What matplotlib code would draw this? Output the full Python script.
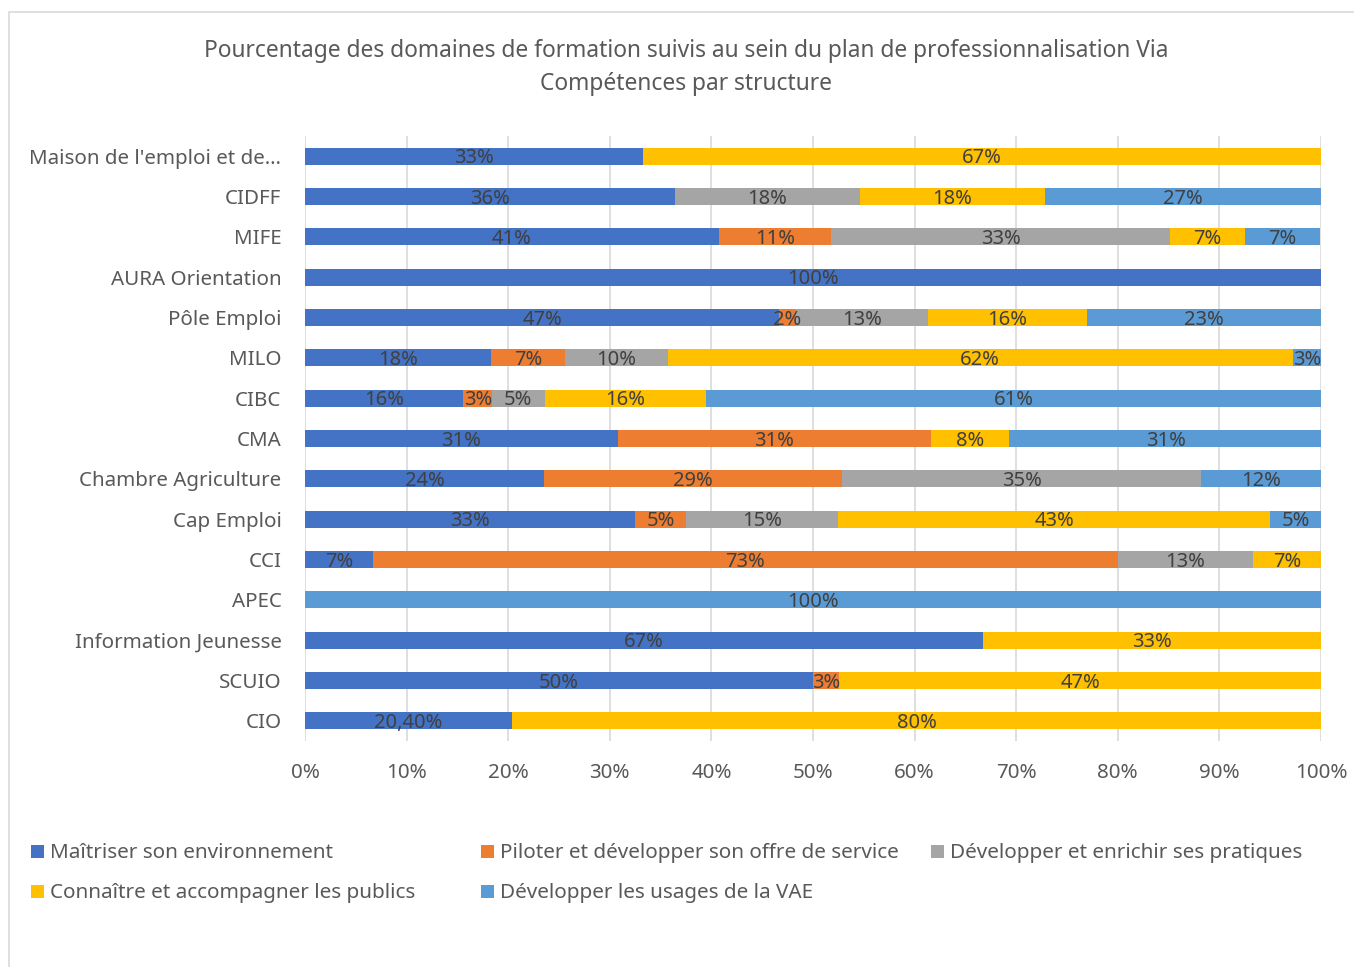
import math
import matplotlib
matplotlib.use("Agg")
import matplotlib.pyplot as plt
from matplotlib.patches import Rectangle

plt.rcParams['font.family'] = ['Noto Sans', 'DejaVu Sans']

categories = ["Maison de l'emploi et de…", "CIDFF", "MIFE", "AURA Orientation",
              "Pôle Emploi", "MILO", "CIBC", "CMA", "Chambre Agriculture",
              "Cap Emploi", "CCI", "APEC", "Information Jeunesse", "SCUIO", "CIO"]

series_names = ["Maîtriser son environnement",
                "Piloter et développer son offre de service",
                "Développer et enrichir ses pratiques",
                "Connaître et accompagner les publics",
                "Développer les usages de la VAE"]

maitriser = [33.3, 36.4, 40.7, 100.0, 46.7, 18.3, 15.6, 30.8, 23.5, 32.5, 6.7, 0.0, 66.7, 50.0, 20.4]
piloter = [0.0, 0.0, 11.1, 0.0, 1.6, 7.3, 2.8, 30.8, 29.4, 5.0, 73.3, 0.0, 0.0, 2.6, 0.0]
enrichir = [0.0, 18.2, 33.3, 0.0, 13.0, 10.1, 5.2, 0.0, 35.3, 15.0, 13.3, 0.0, 0.0, 0.0, 0.0]
connaitre = [66.7, 18.2, 7.4, 0.0, 15.7, 61.5, 15.9, 7.7, 0.0, 42.5, 6.7, 0.0, 33.3, 47.4, 79.6]
vae = [0.0, 27.3, 7.4, 0.0, 23.0, 2.8, 60.6, 30.8, 11.8, 5.0, 0.0, 100.0, 0.0, 0.0, 0.0]

# label overrides (as typed in the source chart)
label_overrides = {(0, 14): "20,40%"}

colors = ["#4472C4", "#ED7D31", "#A5A5A5", "#FFC000", "#5B9BD5"]
series = [maitriser, piloter, enrichir, connaitre, vae]

W, H = 1354, 967
fig = plt.figure(figsize=(W / 100, H / 100), dpi=100)
fig.patch.set_facecolor("white")

# outer chart border (right and bottom edges fall outside the image)
fig.patches.append(Rectangle((9 / W, -0.02), (W - 9) / W + 0.02, (H - 12) / H + 0.02,
                             transform=fig.transFigure, fill=False,
                             edgecolor="#D9D9D9", linewidth=1.2))

ax = fig.add_axes([305 / W, 1 - 741 / H, 1016 / W, 605 / H])
y = list(range(len(categories)))
left = [0.0] * len(categories)
text_color = "#404040"
for si, (vals, col) in enumerate(zip(series, colors)):
    ax.barh(y, vals, left=left, height=0.42, color=col, zorder=3)
    for ci, v in enumerate(vals):
        if v > 0:
            lab = label_overrides.get((si, ci), f"{math.floor(v + 0.5)}%")
            ax.text(left[ci] + v / 2, ci + 0.05, lab, ha="center", va="center",
                    fontsize=14.5, color=text_color, zorder=4)
    left = [l + v for l, v in zip(left, vals)]

ax.set_xlim(0, 100)
ax.set_ylim(len(categories) - 0.5, -0.5)
ax.set_xticks(range(0, 101, 10))
ax.set_xticklabels([f"{t}%" for t in range(0, 101, 10)])
ax.set_yticks(y)
ax.set_yticklabels(categories)
ax.grid(axis="x", color="#D9D9D9", linewidth=1.2, zorder=0)
for s in ax.spines.values():
    s.set_visible(False)
ax.tick_params(axis="both", length=0, labelsize=14.8, labelcolor="#595959")
ax.tick_params(axis="y", pad=17)
ax.tick_params(axis="x", pad=16)

# title
fig.text(686 / W, 1 - 51 / H, "Pourcentage des domaines de formation suivis au sein du plan de professionnalisation Via",
         ha="center", va="center", fontsize=16.4, color="#595959")
fig.text(686 / W, 1 - 84 / H, "Compétences par structure",
         ha="center", va="center", fontsize=16.4, color="#595959")

# legend (row-major, fixed column width)
leg_pos = [(31, 852), (481, 852), (931, 852), (31, 892), (481, 892)]
for (lx, ly), name, col in zip(leg_pos, series_names, colors):
    fig.patches.append(Rectangle((lx / W, 1 - (ly + 6) / H), 13 / W, 13 / H,
                                 transform=fig.transFigure, facecolor=col, edgecolor="none"))
    fig.text((lx + 19) / W, 1 - (ly + 1) / H, name, ha="left", va="center",
             fontsize=14.9, color="#595959")

fig.savefig("out.png", dpi=100, facecolor="white")
